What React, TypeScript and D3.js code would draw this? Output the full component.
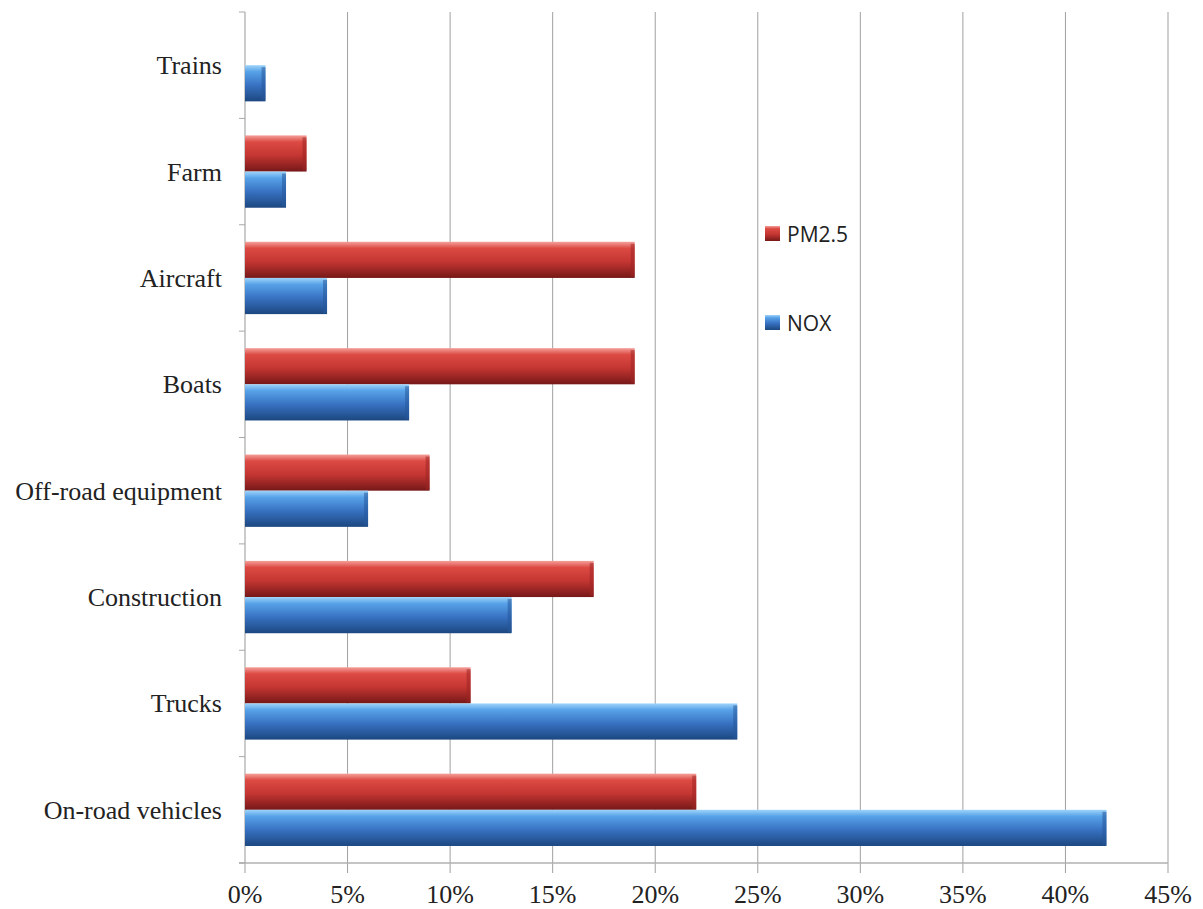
import React from "react";
import * as d3 from "d3";

const categories = ["Trains", "Farm", "Aircraft", "Boats", "Off-road equipment", "Construction", "Trucks", "On-road vehicles"];
const pm25 = [0, 3, 19, 19, 9, 17, 11, 22];
const nox = [1, 2, 4, 8, 6, 13, 24, 42];
const xTicks = [0, 5, 10, 15, 20, 25, 30, 35, 40, 45];
const seriesNames = ["PM2.5", "NOX"];

const W = 1203, H = 909;
const left = 245, right = 1168, top = 12, bottom = 863;

export default function App() {
  const x = d3.scaleLinear().domain([0, 45]).range([left, right]);
  const y = d3.scaleBand().domain(categories).range([top, bottom]).paddingInner(0.32).paddingOuter(0.16);
  const bandStep = y.step();
  const sub = d3.scaleBand().domain(seriesNames).range([0, y.bandwidth()]);
  const boundaries = d3.range(categories.length + 1).map(i => top + i * bandStep);

  const series = [
    { name: "PM2.5", values: pm25, grad: "gradRed", cap: "#9e2424" },
    { name: "NOX", values: nox, grad: "gradBlue", cap: "#27589a" },
  ];

  return (
    <svg width={W} height={H} style={{ position: "absolute", left: 0, top: 0, background: "#fff" }}>
      <defs>
        <linearGradient id="gradRed" x1="0" y1="0" x2="0" y2="1">
          <stop offset="0" stopColor="#f4a09a" />
          <stop offset="0.18" stopColor="#dd4a44" />
          <stop offset="0.55" stopColor="#c43632" />
          <stop offset="1" stopColor="#761818" />
        </linearGradient>
        <linearGradient id="gradBlue" x1="0" y1="0" x2="0" y2="1">
          <stop offset="0" stopColor="#9fd4fa" />
          <stop offset="0.18" stopColor="#57a2e8" />
          <stop offset="0.55" stopColor="#3872c2" />
          <stop offset="1" stopColor="#1c4780" />
        </linearGradient>
      </defs>
      {xTicks.slice(1).map(t => (
        <line key={"g" + t} x1={x(t)} x2={x(t)} y1={top} y2={bottom} stroke="#a0a0a0" strokeWidth={1} />
      ))}
      {xTicks.map(t => (
        <line key={"xt" + t} x1={x(t)} x2={x(t)} y1={bottom} y2={bottom + 10} stroke="#a0a0a0" strokeWidth={1} />
      ))}
      <line x1={left} x2={left} y1={top} y2={bottom} stroke="#a8a8a8" strokeWidth={1.2} />
      <line x1={left - 6} x2={right} y1={bottom} y2={bottom} stroke="#b0b0b0" strokeWidth={1.5} />
      {boundaries.map((b, i) => (
        <line key={"yt" + i} x1={left - 6} x2={left} y1={b} y2={b} stroke="#a8a8a8" />
      ))}
      {categories.map((c, i) => (
        <g key={c}>
          {series.map(s => {
            const v = s.values[i];
            if (v <= 0) return null;
            const by = (y(c) as number) + (sub(s.name) as number);
            const bh = sub.bandwidth();
            const bw = x(v) - x(0);
            return (
              <g key={s.name}>
                <rect x={x(0)} y={by} width={bw} height={bh} fill={`url(#${s.grad})`} />
                <rect x={x(v) - 4} y={by + 2} width={4} height={bh - 3} fill={s.cap} opacity={0.55} />
              </g>
            );
          })}
          <text x={222} y={(y(c) as number) + y.bandwidth() / 2 + 9} textAnchor="end"
            fontFamily="'Liberation Serif', 'Times New Roman', serif" fontSize={26} fill="#222">{c}</text>
        </g>
      ))}
      {xTicks.map(t => (
        <text key={"xl" + t} x={x(t)} y={903} textAnchor="middle"
          fontFamily="'Liberation Serif', 'Times New Roman', serif" fontSize={26} fill="#222">{t}%</text>
      ))}
      {series.map((s, i) => (
        <g key={"lg" + s.name} transform={`translate(765, ${226 + i * 89})`}>
          <rect x={0} y={0} width={15} height={15} fill={`url(#${s.grad})`} />
          <text x={22} y={8} dominantBaseline="central" fontFamily="'Open Sans', 'Noto Sans', sans-serif" fontSize={21} fill="#222">{s.name}</text>
        </g>
      ))}
    </svg>
  );
}
